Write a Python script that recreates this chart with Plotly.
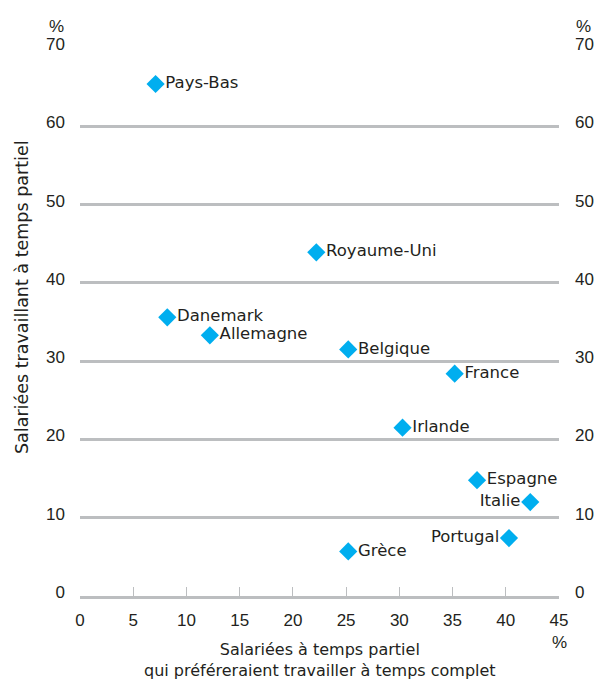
import plotly.graph_objects as go

countries = ["Pays-Bas", "Royaume-Uni", "Danemark", "Allemagne", "Belgique", "France",
             "Irlande", "Espagne", "Italie", "Portugal", "Grèce"]
pref_full = [7.1, 22.2, 8.2, 12.2, 25.2, 35.2, 30.3, 37.3, 42.3, 40.3, 25.2]
part_time = [65.4, 43.9, 35.6, 33.3, 31.5, 28.4, 21.5, 14.8, 12.0, 7.4, 5.7]
label_side = ["middle right"] * 8 + ["middle left", "middle left", "middle right"]

x_ticks = [0, 5, 10, 15, 20, 25, 30, 35, 40, 45]
y_ticks = [0, 10, 20, 30, 40, 50, 60, 70]

TICKFONT = "Liberation Sans"
FONT = "DejaVu Sans"
FS = 16.5
TXT = "#231f20"
GRID = "#bcbec0"
BLUE = "#00aeef"

fig = go.Figure()
fig.add_trace(go.Scatter(
    x=pref_full, y=part_time, mode="markers+text", text=countries,
    textposition=label_side,
    marker=dict(symbol="diamond", size=14, color=BLUE),
    textfont=dict(family=FONT, size=FS, color=TXT),
    cliponaxis=False, showlegend=False, hoverinfo="skip"))
fig.add_trace(go.Scatter(x=[0], y=[0], yaxis="y2", mode="markers",
                         marker=dict(opacity=0), showlegend=False, hoverinfo="skip"))

tf = dict(family=TICKFONT, size=17, color=TXT)
fig.update_layout(
    width=595, height=680,
    margin=dict(l=80, r=36, t=48, b=84, autoexpand=False),
    paper_bgcolor="white", plot_bgcolor="white",
    font=dict(family=FONT, size=FS, color=TXT),
    xaxis=dict(range=[0, 45], tickvals=x_ticks, ticks="", showgrid=False, zeroline=False,
               automargin=False,
               showline=True, linecolor=GRID, linewidth=3,
               minor=dict(tickvals=x_ticks[1:-1], ticks="inside", ticklen=9,
                          tickcolor=GRID, tickwidth=1, showgrid=False),
               tickfont=tf, ticklabelstandoff=7),
    yaxis=dict(range=[0, 70], tickvals=y_ticks, showgrid=True, gridcolor=GRID, gridwidth=3,
               automargin=False, ticklabelshift=-4,
               zeroline=False, ticks="", tickfont=tf, ticklabelstandoff=14),
    yaxis2=dict(range=[0, 70], tickvals=y_ticks, overlaying="y", side="right",
                automargin=False, ticklabelshift=-4,
                showgrid=False, zeroline=False, ticks="", tickfont=tf, ticklabelstandoff=15),
    annotations=[
        dict(text="%", xref="paper", yref="y", x=0, y=70, xanchor="right", yanchor="bottom",
             xshift=-14, yshift=10, showarrow=False, font=tf),
        dict(text="%", xref="paper", yref="y", x=1, y=70, xanchor="left", yanchor="bottom",
             xshift=15, yshift=10, showarrow=False, font=tf),
        dict(text="%", xref="x", yref="paper", x=45, y=0, xanchor="center", yanchor="top",
             yshift=-35, showarrow=False, font=tf),
        dict(text="Salariées à temps partiel<br>qui préféreraient travailler à temps complet",
             xref="paper", yref="paper", x=0.5, y=0, xanchor="center", yanchor="top",
             yshift=-42, showarrow=False, font=dict(family=FONT, size=16)),
        dict(text="Salariées travaillant à temps partiel", xref="paper", yref="paper",
             x=0, y=0.5, xanchor="center", yanchor="middle", xshift=-58, yshift=25,
             textangle=-90, showarrow=False, font=dict(family=FONT, size=17.5)),
    ],
)

fig.write_html(
    "out.html",
    config={"displayModeBar": False},
    post_script="document.body.style.margin='0';"
                "document.documentElement.style.overflow='hidden';",
)
